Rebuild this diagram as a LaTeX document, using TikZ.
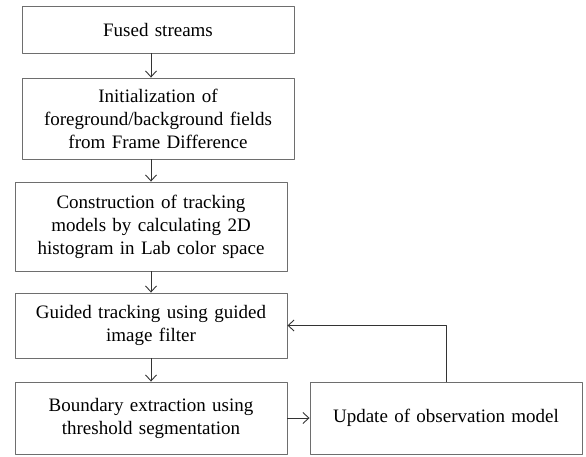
\documentclass[tikz,border=0pt]{standalone}
\usepackage{fontspec}
\setmainfont{Liberation Serif}
\usepackage{tikz}
\usetikzlibrary{arrows.meta,calc,positioning}
\definecolor{edgegray}{HTML}{6E6E6E}
\tikzset{
  stage/.style={draw=edgegray, line width=0.9pt, text width=262pt, align=center,
    minimum width=272pt, inner sep=4pt, font=\fontsize{19}{23}\selectfont},
  flow/.style={draw=black!80, line width=0.9pt, -{Straight Barb[length=6pt,width=11pt]}},
  every picture/.style={line cap=round, line join=round}
}

\begin{document}
\begin{tikzpicture}[x=1pt, y=-1pt]
  \useasboundingbox (0,0) rectangle (586,456);

  \node[stage, minimum height=47pt] (fused) at (158,29.5) {Fused streams};
  \node[stage, minimum height=81pt] (init) at (158,118.5)
    {Initialization of\\ foreground/background fields\\ from Frame Difference};
  \node[stage, minimum height=89pt] (model) at (151,226.5)
    {Construction of tracking\\ models by calculating 2D\\ histogram in Lab color space};
  \node[stage, minimum height=65pt] (track) at (151,325.5)
    {Guided tracking using guided\\ image filter};
  \node[stage, minimum height=72pt] (bound) at (151,418)
    {Boundary extraction using\\ threshold segmentation};
  \node[stage, minimum height=72pt] (update) at (446,418)
    {Update of observation model};

  \draw[flow] (fused.south -| model.north) -- (init.north -| model.north);
  \draw[flow] (init.south -| model.north) -- (model.north);
  \draw[flow] (model) -- (track);
  \draw[flow] (track) -- (bound);
  \draw[flow] (bound) -- (update);
  \draw[flow] (update.north) |- (track.east);
\end{tikzpicture}
\end{document}
